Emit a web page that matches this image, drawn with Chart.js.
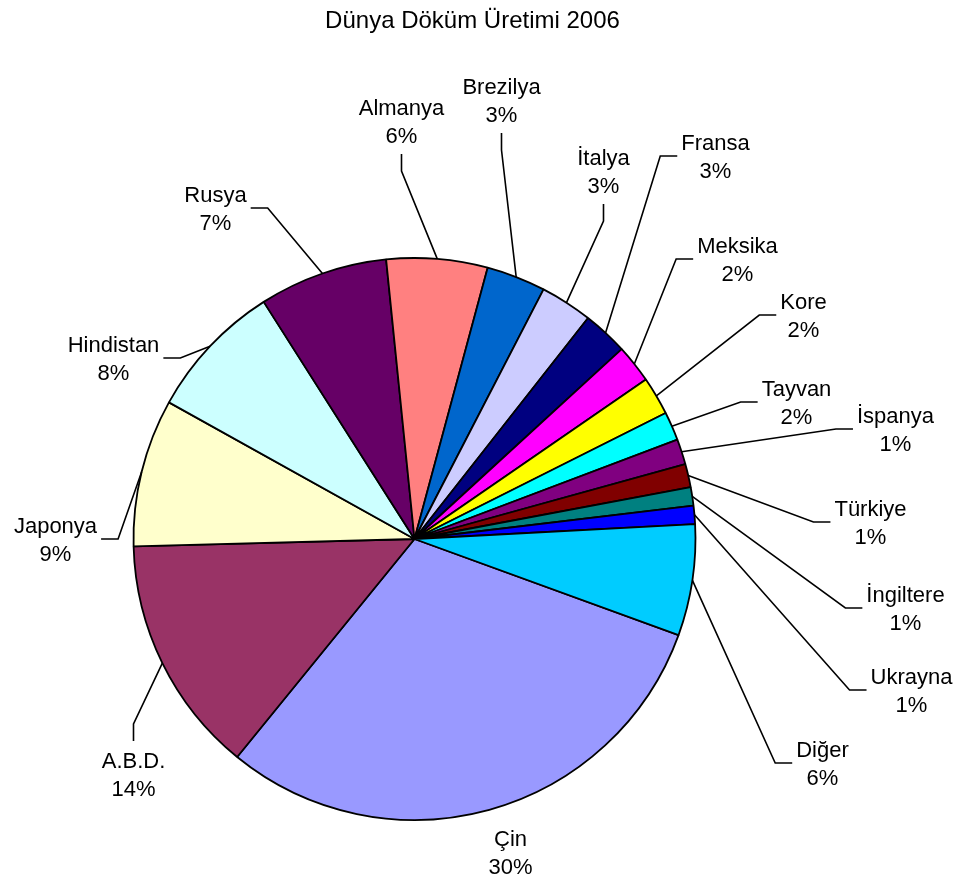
<!DOCTYPE html>
<html lang="tr">
<head>
<meta charset="UTF-8">
<title>Dünya Döküm Üretimi 2006</title>
<style>
    body { margin: 0; background: #fff; }
    canvas { display: block; }
</style>
</head>
<body>
<canvas id="pieChart" width="961" height="885"></canvas>

<script src="https://cdn.jsdelivr.net/npm/chart.js"></script>
<script>
    const chartTitle = 'Dünya Döküm Üretimi 2006';

    // countries, clockwise starting with Çin
    const countries = ['Çin', 'A.B.D.', 'Japonya', 'Hindistan', 'Rusya', 'Almanya', 'Brezilya',
        'İtalya', 'Fransa', 'Meksika', 'Kore', 'Tayvan', 'İspanya', 'Türkiye', 'İngiltere',
        'Ukrayna', 'Diğer'];
    // share of world casting production (%)
    const shares = [30.3, 13.7, 8.5, 7.9, 7.4, 5.8, 3.4, 3.0, 2.6, 2.2, 2.2, 1.65, 1.45, 1.35,
        1.05, 1.05, 6.4];
    const sliceColors = ['#9999FF', '#993366', '#FFFFCC', '#CCFFFF', '#660066', '#FF8080',
        '#0066CC', '#CCCCFF', '#000080', '#FF00FF', '#FFFF00', '#00FFFF', '#800080', '#800000',
        '#008080', '#0000FF', '#00CCFF'];

    // label centre relative to pie centre (px) and which side the leader line joins
    const labelOffsets = [[96, 313], [-281, 235], [-359, 0], [-301, -181], [-199, -331],
        [-13, -418], [87, -439], [189, -368], [301, -383], [323, -280], [389, -224],
        [382, -137], [481, -110], [456, -17], [491, 69], [497, 151], [408, 224]];
    const labelSides = ['none', 'top', 'right', 'right', 'right', 'bottom', 'bottom', 'bottom',
        'left', 'left', 'left', 'left', 'left', 'left', 'left', 'left', 'left'];

    const FONT = '"Liberation Sans", Arial, sans-serif';
    const total = shares.reduce((a, b) => a + b, 0);

    // draws the outside labels with their leader lines, plus the title
    const outerLabels = {
        id: 'outerLabels',
        afterDatasetsDraw(chart) {
            const ctx = chart.ctx;
            const arcs = chart.getDatasetMeta(0).data;
            ctx.save();
            ctx.fillStyle = '#000';
            ctx.strokeStyle = '#000';
            ctx.lineWidth = 1.6;
            ctx.font = '22px ' + FONT;
            ctx.textAlign = 'center';
            ctx.textBaseline = 'alphabetic';

            arcs.forEach((arc, i) => {
                const p = arc.getProps(['x', 'y', 'startAngle', 'endAngle', 'outerRadius'], true);
                const mid = (p.startAngle + p.endAngle) / 2;
                const lx = p.x + labelOffsets[i][0];
                const ly = p.y + labelOffsets[i][1];
                const lines = [countries[i], Math.round(shares[i] / total * 100) + '%'];
                const w = Math.max(...lines.map(t => ctx.measureText(t).width));

                ctx.fillText(lines[0], lx, ly - 6);
                ctx.fillText(lines[1], lx, ly + 22);

                const side = labelSides[i];
                if (side === 'none') return;
                const seg = 17;
                let ax, ay, ex, ey;
                if (side === 'left') {
                    ax = lx - w / 2 - 4; ay = ly; ex = ax - seg; ey = ay;
                } else if (side === 'right') {
                    ax = lx + w / 2 + 4; ay = ly; ex = ax + seg; ey = ay;
                } else if (side === 'bottom') {
                    ax = lx; ay = ly + 33; ex = ax; ey = ay + seg;
                } else {
                    ax = lx; ay = ly - 33; ex = ax; ey = ay - seg;
                }
                ctx.beginPath();
                ctx.moveTo(p.x + Math.cos(mid) * p.outerRadius, p.y + Math.sin(mid) * p.outerRadius);
                ctx.lineTo(ex, ey);
                ctx.lineTo(ax, ay);
                ctx.stroke();
            });

            ctx.font = '24px ' + FONT;
            ctx.fillText(chartTitle, chart.width / 2 - 8, 28);
            ctx.restore();
        }
    };

    new Chart(document.getElementById('pieChart'), {
        type: 'pie',
        data: {
            labels: countries,
            datasets: [{
                data: shares,
                backgroundColor: sliceColors,
                borderColor: '#000',
                borderWidth: 1.8
            }]
        },
        options: {
            responsive: false,
            animation: false,
            rotation: 110,
            radius: 281,
            layout: {
                padding: { left: 133, right: 265, top: 258, bottom: 65 }
            },
            plugins: {
                legend: { display: false },
                tooltip: { enabled: false }
            }
        },
        plugins: [outerLabels]
    });
</script>
</body>
</html>
